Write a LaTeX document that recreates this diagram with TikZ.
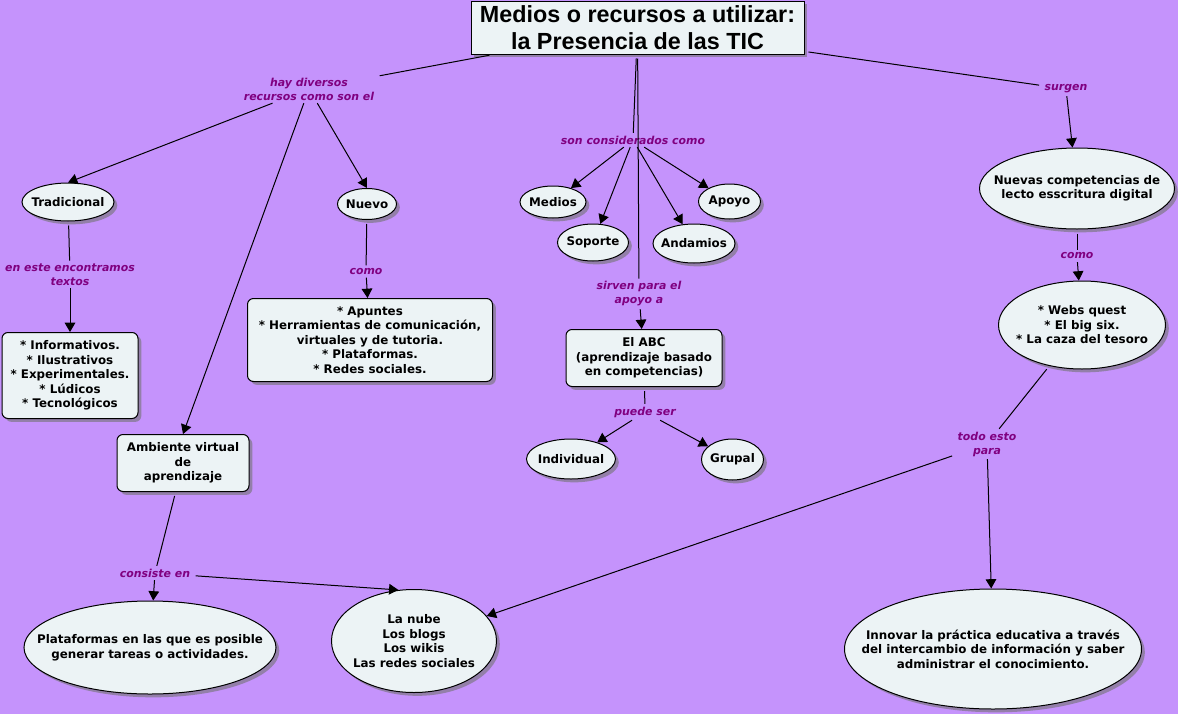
\documentclass[tikz,border=0pt]{standalone}
\usepackage{fontspec}
\setmainfont{DejaVu Sans}
\newfontfamily\titlefont{Liberation Sans}
\usepackage{tikz}
\usetikzlibrary{shapes.geometric, arrows.meta, shadows}
\definecolor{fondo}{RGB}{197,147,252}
\definecolor{relleno}{RGB}{236,243,245}
\definecolor{enlace}{RGB}{128,0,128}
\tikzset{
	sombra/.style={drop shadow={shadow xshift=2.5pt, shadow yshift=-2.5pt, fill=black!55, opacity=0.6}},
	concept/.style={ellipse, draw=black, line width=0.75pt, fill=relleno, inner sep=-40pt, align=center, font=\bfseries\fontsize{8.9}{10.9}\selectfont, sombra},
	conceptbox/.style={rectangle, rounded corners=4.5pt, draw=black, line width=0.75pt, fill=relleno, inner sep=1pt, align=center, font=\bfseries\fontsize{8.9}{10.9}\selectfont, sombra},
	titlebox/.style={rectangle, draw=black, line width=0.75pt, fill=relleno, inner sep=1pt, align=center, font=\titlefont\bfseries\fontsize{17.5}{20}\selectfont, sombra},
	linklabel/.style={inner xsep=4pt, inner ysep=2pt, align=center, text=enlace, font=\bfseries\itshape\fontsize{8.2}{10.5}\selectfont},
	connect/.style={line width=0.75pt, shorten <=3pt},
	arrow/.style={line width=0.75pt, -{Triangle[length=7pt, width=8pt]}}
}

\begin{document}
\begin{tikzpicture}[x=0.75pt, y=-0.75pt]
	\useasboundingbox (0,0) rectangle (1178,714);
	\fill[fondo] (0,0) rectangle (1178,714);
	
	% Concepto principal
	\node[titlebox, minimum width=249.75pt, minimum height=39.75pt] (titulo) at (637.5,27.5) {Medios o recursos a utilizar:\\la Presencia de las TIC};
	
	% Conceptos
	\node[concept, minimum width=69pt, minimum height=28.5pt] (trad) at (68,202) {Tradicional};
	\node[concept, minimum width=44.25pt, minimum height=23.25pt] (nuevo) at (367,204) {Nuevo};
	\node[concept, minimum width=49.5pt, minimum height=24pt] (medios) at (553,202) {Medios};
	\node[concept, minimum width=53.25pt, minimum height=27.75pt] (soporte) at (593,242.5) {Soporte};
	\node[concept, minimum width=61.5pt, minimum height=29.25pt] (andamios) at (694,243.5) {Andamios};
	\node[concept, minimum width=46.5pt, minimum height=26.25pt] (apoyo) at (729.5,201.5) {Apoyo};
	\node[concept, minimum width=146.25pt, minimum height=60.75pt] (nuevas) at (1077,188.5) {Nuevas competencias de\\lecto esscritura digital};
	\node[concept, minimum width=125.25pt, minimum height=66pt] (webs) at (1082,325) {* Webs quest\\* El big six.\\* La caza del tesoro};
	\node[concept, minimum width=222.75pt, minimum height=90pt] (innovar) at (993,649) {Innovar la práctica educativa a través\\del intercambio de información y saber\\administrar el conocimiento.};
	\node[conceptbox, minimum width=117pt, minimum height=42.75pt] (abc) at (644,358) {El ABC\\(aprendizaje basado\\en competencias)};
	\node[concept, minimum width=66.75pt, minimum height=30pt] (indiv) at (571,459) {Individual};
	\node[concept, minimum width=46.5pt, minimum height=30.75pt] (grupal) at (732.5,459.5) {Grupal};
	\node[conceptbox, minimum width=102pt, minimum height=64.5pt] (textos) at (70,375.5) {* Informativos.\\* Ilustrativos\\* Experimentales.\\* Lúdicos\\* Tecnológicos};
	\node[conceptbox, minimum width=183.75pt, minimum height=62.25pt] (apuntes) at (370,340) {* Apuntes\\* Herramientas de comunicación,\\virtuales y de tutoria.\\* Plataformas.\\* Redes sociales.};
	\node[conceptbox, minimum width=99pt, minimum height=42.75pt] (ambiente) at (183,463) {Ambiente virtual\\de\\aprendizaje};
	\node[concept, minimum width=189pt, minimum height=69.75pt] (plataf) at (150,647.5) {Plataformas en las que es posible\\generar tareas o actividades.};
	\node[concept, minimum width=123.75pt, minimum height=77.25pt] (nube) at (414,641) {La nube\\Los blogs\\Los wikis\\Las redes sociales};
	
	% Frases de enlace
	\node[linklabel] (hay) at (309,89) {hay diversos\\recursos como son el};
	\node[linklabel] (eneste) at (70,274.5) {en este encontramos\\textos};
	\node[linklabel] (como) at (366,271.5) {como};
	\node[linklabel] (son) at (633,140) {son considerados como};
	\node[linklabel] (sirven) at (639,294) {sirven para el\\apoyo a};
	\node[linklabel] (surgen) at (1066,89) {surgen};
	\node[linklabel] (comob) at (1077,256) {como};
	\node[linklabel] (puede) at (645,412) {puede ser};
	\node[linklabel] (todo) at (987,444) {todo esto\\para};
	\node[linklabel] (consiste) at (155,573) {consiste en};
	
	% Conexiones
	\draw[connect] (titulo) -- (hay);
	\draw[arrow] (hay) -- (trad.north);
	\draw[arrow] (hay) -- (ambiente.north);
	\draw[arrow] (hay) -- (nuevo.north);
	\draw[connect] (trad) -- (eneste);
	\draw[arrow] (eneste) -- (textos);
	\draw[connect] (nuevo) -- (como);
	\draw[arrow] (como) -- (apuntes);
	\draw[connect] (titulo) -- (son);
	\draw[arrow] (son) -- (medios);
	\draw[arrow] (son) -- (soporte);
	\draw[arrow] (son) -- (andamios);
	\draw[arrow] (son) -- (apoyo);
	\draw[connect] (titulo) -- (sirven);
	\draw[arrow] (sirven) -- (abc);
	\draw[connect] (abc) -- (puede);
	\draw[arrow] (puede) -- (indiv);
	\draw[arrow] (puede) -- (grupal);
	\draw[connect] (titulo) -- (surgen);
	\draw[arrow] (surgen) -- (nuevas);
	\draw[connect] (nuevas) -- (comob);
	\draw[arrow] (comob) -- (webs);
	\draw[connect] (webs) -- (todo);
	\draw[arrow] (todo) -- (innovar);
	\draw[arrow] (todo) -- (nube);
	\draw[connect] (ambiente) -- (consiste);
	\draw[arrow] (consiste) -- (plataf);
	\draw[arrow] (consiste) -- (nube.107);
\end{tikzpicture}
\end{document}
